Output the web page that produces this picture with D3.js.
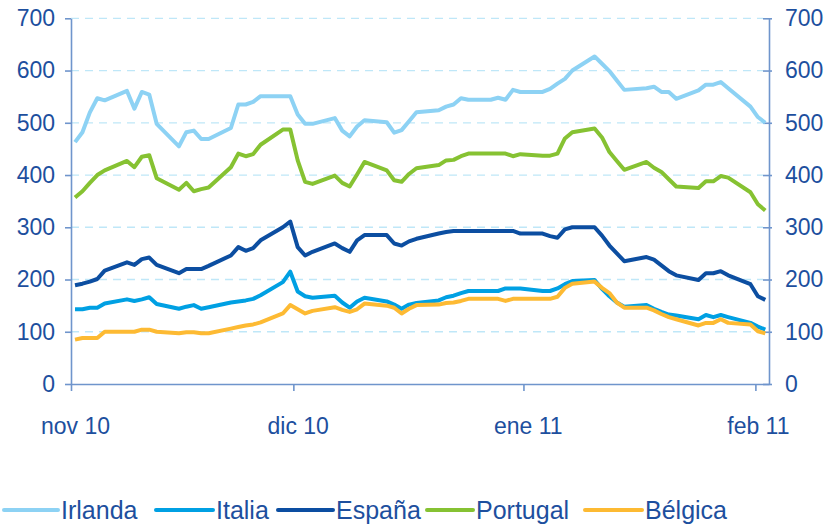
<!DOCTYPE html>
<html>
<head>
<meta charset="utf-8">
<script src="https://cdn.jsdelivr.net/npm/d3@7/dist/d3.min.js"></script>
<style>
  html, body { margin: 0; padding: 0; background: #ffffff; }
  svg text { font-family: "Liberation Sans", Arial, sans-serif; fill: #1d4f9e; }
</style>
</head>
<body>
<svg id="chart" width="826" height="524"></svg>
<script>
// ---------------- DATA ----------------
const dates = [
  "2010-11-01","2010-11-02","2010-11-03","2010-11-04","2010-11-05",
  "2010-11-08","2010-11-09","2010-11-10","2010-11-11","2010-11-12",
  "2010-11-15","2010-11-16","2010-11-17","2010-11-18","2010-11-19",
  "2010-11-22","2010-11-23","2010-11-24","2010-11-25","2010-11-26",
  "2010-11-29","2010-11-30",
  "2010-12-01","2010-12-02","2010-12-03",
  "2010-12-06","2010-12-07","2010-12-08","2010-12-09","2010-12-10",
  "2010-12-13","2010-12-14","2010-12-15","2010-12-16","2010-12-17",
  "2010-12-20","2010-12-21","2010-12-22","2010-12-23","2010-12-24",
  "2010-12-27","2010-12-28","2010-12-29","2010-12-30","2010-12-31",
  "2011-01-03","2011-01-04","2011-01-05","2011-01-06","2011-01-07",
  "2011-01-10","2011-01-11","2011-01-12","2011-01-13","2011-01-14",
  "2011-01-17","2011-01-18","2011-01-19","2011-01-20","2011-01-21",
  "2011-01-24","2011-01-25","2011-01-26","2011-01-27","2011-01-28",
  "2011-01-31","2011-02-01","2011-02-02"
];

const irlanda = [
  463,482,520,547,543, 561,527,559,554,498, 455,482,485,469,469, 490,535,535,540,551, 551,551,
  516,498,498, 509,485,474,493,505, 501,481,486,503,520, 524,531,535,547,544, 544,548,544,563,559,
  559,565,575,584,600, 627,613,599,581,563, 566,569,559,559,546, 562,573,573,578,566, 531,
  511,500
];
const italia = [
  143,143,146,146,154, 162,159,162,166,153, 144,148,151,144,147, 156,158,160,163,170, 195,215,
  177,168,165, 169,156,146,158,165, 158,152,144,152,155, 160,166,169,174,178, 178,178,183,183,183,
  178,178,183,191,197, 199,182,168,156,148, 151,144,138,133,131, 124,132,128,132,128, 117,
  110,104
];
const espana = [
  189,192,196,201,217, 233,228,239,242,228, 212,220,220,220,226, 246,262,255,260,275, 300,311,
  262,246,253, 269,260,253,275,285, 285,269,265,273,278, 288,291,293,293,293, 293,293,293,293,288,
  288,283,280,296,300, 300,284,265,250,235, 243,238,227,216,208, 199,212,212,216,208, 191,
  168,161
];
const portugal = [
  357,369,385,400,409, 427,415,435,438,394, 372,385,369,373,376, 415,441,436,440,458, 487,487,
  428,387,383, 399,385,378,401,425, 409,390,387,402,413, 419,428,429,436,441, 441,441,441,436,440,
  437,437,441,470,482, 489,472,444,427,410, 425,414,406,392,378, 375,388,388,398,395, 367,
  344,332
];
const belgica = [
  85,88,88,88,100, 100,100,104,104,100, 97,99,99,97,97, 106,109,112,114,118, 135,151,
  143,135,140, 147,142,138,143,154, 150,146,135,144,151, 152,155,156,159,163, 163,163,159,163,163,
  163,163,167,184,192, 196,184,174,156,146, 146,141,134,128,124, 112,117,117,124,117, 114,
  101,97
];

const seriesNames = ["Irlanda", "Italia", "España", "Portugal", "Bélgica"];
const seriesValues = [irlanda, italia, espana, portugal, belgica];
const seriesColors = ["#8dd2f4", "#00a0e3", "#0c4ea1", "#86c232", "#fdba33"];

const yTicks = [0, 100, 200, 300, 400, 500, 600, 700];
const monthTicks = ["2010-11-01", "2010-12-01", "2011-01-01", "2011-02-01"];
const monthLabels = ["nov 10", "dic 10", "ene 11", "feb 11"];

// ---------------- LAYOUT ----------------
const parse = d3.utcParse("%Y-%m-%d");
const dateObjs = dates.map(parse);
const svg = d3.select("#chart");

const plotLeft = 71, plotRight = 769, plotTop = 18.3, plotBottom = 384;

const x = d3.scaleUtc()
  .domain([d3.utcHour.offset(parse("2010-11-01"), -13), d3.utcHour.offset(parse("2011-02-02"), 12)])
  .range([plotLeft, plotRight]);
const y = d3.scaleLinear().domain([0, 700]).range([plotBottom, plotTop]);

const axisColor = "#6f95cc";
const textColor = "#1d4f9e";
const fontFam = "Liberation Sans, Arial, sans-serif";

// gridlines
svg.append("g")
  .selectAll("line")
  .data(yTicks.filter(v => v > 0))
  .join("line")
  .attr("x1", plotLeft).attr("x2", plotRight - 6)
  .attr("y1", d => y(d)).attr("y2", d => y(d))
  .attr("stroke", "#bfe7f8")
  .attr("stroke-width", 1.3)
  .attr("stroke-dasharray", "8,6");

// left axis
const gL = svg.append("g").attr("transform", `translate(${plotLeft},0)`)
  .call(d3.axisLeft(y).tickValues(yTicks).tickSizeInner(6).tickSizeOuter(0).tickPadding(10));
gL.select(".domain").attr("stroke", axisColor).attr("stroke-width", 1.6);
gL.selectAll(".tick line").attr("stroke", axisColor).attr("stroke-width", 1.6);
gL.selectAll(".tick text").attr("font-size", 23).attr("fill", textColor).attr("font-family", fontFam);

// right axis
const gR = svg.append("g").attr("transform", `translate(${plotRight},0)`)
  .call(d3.axisRight(y).tickValues(yTicks).tickSizeInner(3).tickSizeOuter(0).tickPadding(13));
gR.select(".domain").attr("stroke", axisColor).attr("stroke-width", 1.6);
gR.selectAll(".tick line").attr("x1", -6).attr("stroke", axisColor).attr("stroke-width", 1.6);
gR.selectAll(".tick text").attr("font-size", 23).attr("fill", textColor).attr("font-family", fontFam);

// bottom axis line + ticks
const tickDates = monthTicks.map((s, i) => i === 0 ? x.domain()[0] : d3.utcHour.offset(parse(s), i === 3 ? -8 : -14));
const gB = svg.append("g").attr("transform", `translate(0,${plotBottom})`)
  .call(d3.axisBottom(x).tickValues(tickDates).tickSizeInner(7).tickSizeOuter(0).tickFormat(""));
gB.select(".domain").attr("stroke", axisColor).attr("stroke-width", 1.6);
gB.selectAll(".tick line").attr("stroke", axisColor).attr("stroke-width", 1.6);

// bottom labels
const gBL = svg.append("g").attr("transform", `translate(0,${plotBottom})`)
  .call(d3.axisBottom(x).tickValues(monthTicks.map(parse)).tickSize(0).tickPadding(34)
    .tickFormat((d, i) => monthLabels[i]));
gBL.select(".domain").remove();
gBL.selectAll(".tick text").attr("font-size", 23).attr("fill", textColor).attr("font-family", fontFam);

// lines
const line = d3.line()
  .x((d, i) => x(dateObjs[i]))
  .y(d => y(d));

svg.append("g")
  .selectAll("path")
  .data(seriesValues)
  .join("path")
  .attr("d", d => line(d))
  .attr("fill", "none")
  .attr("stroke", (d, i) => seriesColors[i])
  .attr("stroke-width", 4)
  .attr("stroke-linejoin", "round");

// legend
const legX = [4, 156, 278, 427, 585];
const legLen = [54, 57, 55, 46, 57];
const legY = 510;
const leg = svg.append("g");
seriesNames.forEach((name, i) => {
  leg.append("line")
    .attr("x1", legX[i]).attr("x2", legX[i] + legLen[i])
    .attr("y1", legY).attr("y2", legY)
    .attr("stroke", seriesColors[i]).attr("stroke-width", 4).attr("stroke-linecap", "round");
  leg.append("text")
    .attr("x", legX[i] + legLen[i] + 3)
    .attr("y", legY + 8.5)
    .attr("font-size", 25)
    .attr("fill", textColor)
    .attr("font-family", fontFam)
    .text(name);
});
</script>
</body>
</html>
